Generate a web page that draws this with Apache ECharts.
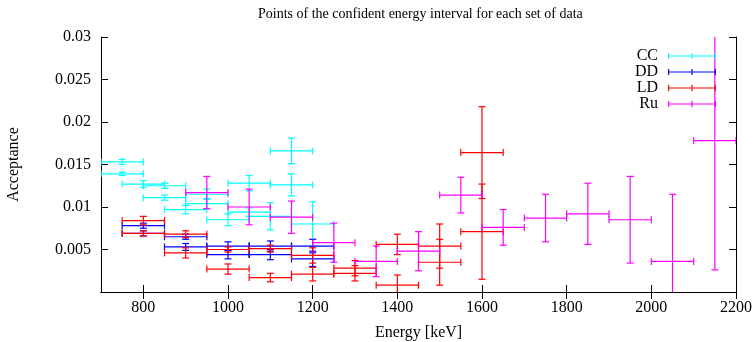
<!DOCTYPE html>
<html>
<head>
<meta charset="utf-8">
<script src="https://cdn.jsdelivr.net/npm/echarts@6/dist/echarts.min.js"></script>
<style>
  html, body { margin: 0; padding: 0; background: #fff; }
  #chart { width: 756px; height: 342px; }
</style>
</head>
<body>
<div id="chart"></div>
<script>
// energy bins are 100 keV wide
const binHalfWidth = 50

const ccEnergy = [750, 750, 800, 850, 850, 900, 950, 950, 1000, 1050, 1050, 1100, 1150, 1150, 1200]
const ccAcceptance = [0.0153, 0.0139, 0.0127, 0.0125, 0.0111, 0.0097, 0.0115, 0.0104, 0.0085, 0.0128, 0.0094, 0.0089, 0.0166, 0.0126, 0.0080]
const ccError = [0.0003, 0.0002, 0.0004, 0.0003, 0.0003, 0.0005, 0.0006, 0.0006, 0.0007, 0.0009, 0.0005, 0.0016, 0.0015, 0.0013, 0.0026]

const ddEnergy = [800, 800, 900, 900, 1000, 1000, 1100, 1100, 1200, 1200]
const ddAcceptance = [0.0078, 0.0069, 0.0065, 0.0053, 0.0054, 0.0044, 0.0054, 0.0044, 0.0054, 0.0039]
const ddError = [0.0003, 0.0003, 0.0003, 0.0004, 0.0005, 0.0005, 0.0006, 0.0006, 0.0008, 0.0009]

const ldEnergy = [800, 800, 900, 900, 1000, 1000, 1100, 1100, 1200, 1200, 1300, 1300, 1400, 1400, 1500, 1500, 1600, 1600]
const ldAcceptance = [0.0084, 0.0069, 0.0068, 0.0046, 0.0050, 0.0027, 0.0051, 0.0017, 0.0043, 0.0021, 0.0028, 0.0022, 0.0056, 0.0008, 0.0054, 0.0035, 0.0164, 0.0071]
const ldError = [0.0005, 0.0003, 0.0004, 0.0006, 0.0003, 0.0006, 0.0004, 0.0005, 0.0009, 0.0008, 0.0009, 0.0009, 0.0012, 0.0012, 0.0026, 0.0027, 0.0054, 0.0056]

const ruEnergy = [950, 1050, 1150, 1250, 1350, 1450, 1550, 1650, 1750, 1850, 1950, 2050, 2150]
const ruAcceptance = [0.0117, 0.0100, 0.0088, 0.0058, 0.0036, 0.0048, 0.0114, 0.0076, 0.0087, 0.0092, 0.0085, 0.0036, 0.0178]
const ruError = [0.0019, 0.0021, 0.0019, 0.0023, 0.0018, 0.0023, 0.0021, 0.0021, 0.0028, 0.0036, 0.0051, 0.0079, 0.0152]

const xTicks = [800, 1000, 1200, 1400, 1600, 1800, 2000, 2200]

const font = '"Liberation Serif", "Times New Roman", serif'

function toRows (energy, acceptance, error) {
  return energy.map((e, i) => [e, acceptance[i], error[i]])
}

// gnuplot style xyerrorbars: bin width horizontally, error vertically, small caps
function renderErrorBars (params, api) {
  const x = api.value(0)
  const y = api.value(1)
  const dy = api.value(2)
  const c = api.coord([x, y])
  const left = api.coord([x - binHalfWidth, y])[0]
  const right = api.coord([x + binHalfWidth, y])[0]
  const top = api.coord([x, y + dy])[1]
  const bottom = api.coord([x, y - dy])[1]
  const cap = 3.5
  const color = api.visual('color')
  const seg = (x1, y1, x2, y2) => ({
    type: 'line',
    shape: { x1, y1, x2, y2 },
    style: { stroke: color, lineWidth: 1.2 }
  })
  return {
    type: 'group',
    children: [
      seg(left, c[1], right, c[1]),
      seg(left, c[1] - cap, left, c[1] + cap),
      seg(right, c[1] - cap, right, c[1] + cap),
      seg(c[0], top, c[0], bottom),
      seg(c[0] - cap, top, c[0] + cap, top),
      seg(c[0] - cap, bottom, c[0] + cap, bottom)
    ]
  }
}

function errorSeries (name, color, rows) {
  return {
    name: name,
    type: 'custom',
    xAxisIndex: 0,
    yAxisIndex: 0,
    clip: true,
    itemStyle: { color: color },
    renderItem: renderErrorBars,
    encode: { x: 0, y: 1 },
    data: rows
  }
}

const myChart = echarts.init(document.getElementById('chart'))
const option = {
  animation: false,
  textStyle: { fontFamily: font },
  title: {
    text: 'Points of the confident energy interval for each set of data',
    left: 253,
    top: 2,
    textStyle: { fontFamily: font, fontSize: 14, fontWeight: 'normal', color: '#000' }
  },
  legend: {
    orient: 'vertical',
    right: 35,
    top: 43,
    align: 'right',
    itemGap: 0,
    itemWidth: 48,
    itemHeight: 6,
    selectedMode: false,
    icon: 'path://M0,0h1.2v6h-1.2z M46.8,0h1.2v6h-1.2z M0,2.4h48v1.2h-48z M23.4,0h1.2v6h-1.2z',
    textStyle: { fontFamily: font, fontSize: 16, color: '#000', padding: [0, 5, 0, 0] },
    data: ['CC', 'DD', 'LD', 'Ru']
  },
  grid: {
    left: 101,
    right: 20,
    top: 37,
    bottom: 50,
    outerBoundsMode: 'none'
  },
  xAxis: [
    {
      type: 'value',
      min: 700,
      max: 2200,
      name: 'Energy [keV]',
      nameLocation: 'middle',
      nameGap: 33,
      nameTextStyle: { fontFamily: font, fontSize: 16, color: '#000' },
      axisLine: { lineStyle: { color: '#000', width: 1 } },
      axisTick: { inside: true, length: 7, customValues: xTicks, lineStyle: { color: '#000' } },
      axisLabel: {
        customValues: xTicks,
        fontFamily: font,
        fontSize: 16,
        color: '#000',
        margin: 8,
        formatter: v => String(v)
      },
      splitLine: { show: false }
    },
    {
      type: 'value',
      position: 'top',
      min: 700,
      max: 2200,
      axisLine: { lineStyle: { color: '#000', width: 1 } },
      axisTick: { inside: true, length: 7, customValues: xTicks, lineStyle: { color: '#000' } },
      axisLabel: { show: false },
      splitLine: { show: false }
    }
  ],
  yAxis: [
    {
      type: 'value',
      min: 0,
      max: 0.03,
      interval: 0.005,
      name: 'Acceptance',
      nameLocation: 'middle',
      nameGap: 79,
      nameTextStyle: { fontFamily: font, fontSize: 16, color: '#000' },
      axisLine: { show: true, lineStyle: { color: '#000', width: 1 } },
      axisTick: { show: true, inside: true, length: 7, lineStyle: { color: '#000' } },
      axisLabel: {
        fontFamily: font,
        fontSize: 16,
        color: '#000',
        margin: 10,
        formatter: v => (v === 0 ? '' : String(+v.toFixed(3)))
      },
      splitLine: { show: false }
    },
    {
      type: 'value',
      position: 'right',
      min: 0,
      max: 0.03,
      interval: 0.005,
      axisLine: { show: true, lineStyle: { color: '#000', width: 1 } },
      axisTick: { show: true, inside: true, length: 7, lineStyle: { color: '#000' } },
      axisLabel: { show: false },
      splitLine: { show: false }
    }
  ],
  series: [
    errorSeries('CC', '#00ffff', toRows(ccEnergy, ccAcceptance, ccError)),
    errorSeries('DD', '#0000ff', toRows(ddEnergy, ddAcceptance, ddError)),
    errorSeries('LD', '#ff0000', toRows(ldEnergy, ldAcceptance, ldError)),
    errorSeries('Ru', '#ff00ff', toRows(ruEnergy, ruAcceptance, ruError))
  ]
}

myChart.setOption(option)
</script>
</body>
</html>
